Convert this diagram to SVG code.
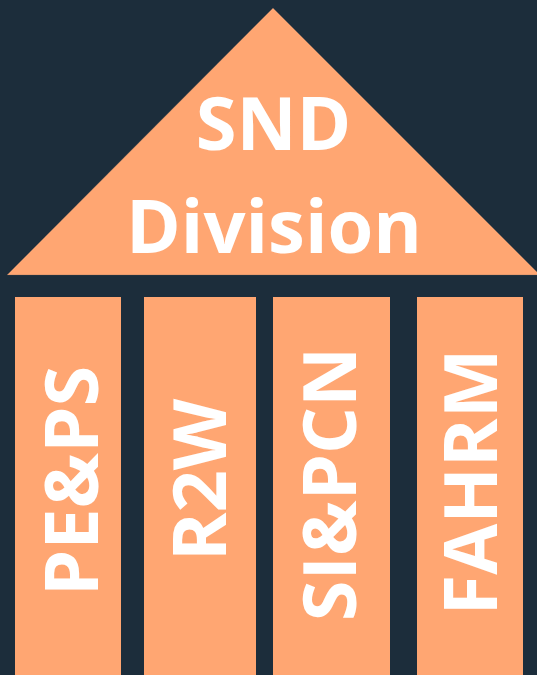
<svg xmlns="http://www.w3.org/2000/svg" width="537" height="675" viewBox="0 0 537 675">
<style>
.bg{fill:#1c2d3b}
.o{fill:#ffa672}
.t{font-family:"Open Sans","Noto Sans",sans-serif;font-weight:700;font-size:74px;fill:#ffffff;text-anchor:middle}
</style>
<rect class="bg" x="0" y="0" width="537" height="675"/>
<g id="roof">
<polygon class="o" points="273,8 7,275 540,275" stroke="#5a5a5a" stroke-opacity="0.35" stroke-width="0.8"/>
<text class="t" x="273.5" y="150">SND</text>
<text class="t" x="274" y="253">Division</text>
</g>
<g id="col-peps">
<rect class="o" x="15" y="297" width="106" height="378"/>
<text class="t" transform="translate(98,481) rotate(-90)">PE&amp;PS</text>
</g>
<g id="col-r2w">
<rect class="o" x="144" y="297" width="112" height="378"/>
<text class="t" transform="translate(226,480) rotate(-90)">R2W</text>
</g>
<g id="col-sipcn">
<rect class="o" x="273" y="297" width="117" height="378"/>
<text class="t" transform="translate(356,484) rotate(-90)">SI&amp;PCN</text>
</g>
<g id="col-fahrm">
<rect class="o" x="417" y="297" width="106" height="378"/>
<text class="t" transform="translate(497,482) rotate(-90)">FAHRM</text>
</g>
<g id="connectors"/>
</svg>
